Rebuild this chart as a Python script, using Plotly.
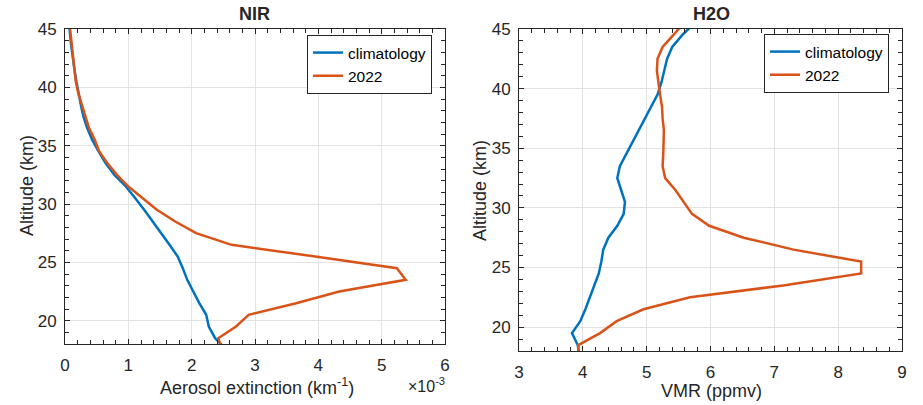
import plotly.graph_objects as go

# ---------------- data ----------------
alt = [17.5, 18.5, 19.5, 20.5, 21.5, 22.5, 23.5, 24.5, 25.5, 26.5, 27.5, 28.5,
       29.5, 30.5, 31.5, 32.5, 33.5, 34.5, 35.5, 36.5, 37.5, 38.5, 39.5, 40.5,
       41.5, 42.5, 43.5, 44.5, 45.5]

# NIR aerosol extinction (x 1e-3 km^-1)
nir_clim = [2.55, 2.37, 2.27, 2.23, 2.12, 2.02, 1.93, 1.86, 1.78, 1.65, 1.52, 1.38,
            1.25, 1.11, 0.96, 0.78, 0.64, 0.53, 0.43, 0.35, 0.29, 0.25, 0.21, 0.18,
            0.15, 0.12, 0.10, 0.08, 0.065]
nir_2022 = [2.48, 2.42, 2.70, 2.90, 3.65, 4.33, 5.38, 5.24, 3.95, 2.63, 2.07, 1.74,
            1.45, 1.22, 1.00, 0.82, 0.67, 0.54, 0.47, 0.38, 0.32, 0.27, 0.21, 0.17,
            0.15, 0.12, 0.10, 0.085, 0.07]

# H2O VMR (ppmv)
h2o_clim = [3.95, 3.92, 3.83, 3.96, 4.04, 4.11, 4.18, 4.25, 4.29, 4.32, 4.40, 4.54,
            4.64, 4.66, 4.60, 4.54, 4.58, 4.68, 4.77, 4.87, 4.98, 5.08, 5.17, 5.23,
            5.28, 5.32, 5.40, 5.56, 5.75]
h2o_2022 = [3.93, 3.93, 4.27, 4.53, 4.95, 5.68, 7.14, 8.36, 8.36, 7.30, 6.52, 5.98,
            5.71, 5.58, 5.45, 5.29, 5.25, 5.26, 5.27, 5.27, 5.25, 5.24, 5.21, 5.19,
            5.16, 5.17, 5.25, 5.42, 5.58]

nir_xticks = [0, 1, 2, 3, 4, 5, 6]
h2o_xticks = [3, 4, 5, 6, 7, 8, 9]
alt_ticks = [20, 25, 30, 35, 40, 45]

BLUE = "#0072BD"
ORANGE = "#D95319"
AX = "#262626"
GRID = "#e3e3e3"
FONT = "Liberation Sans, Arial, sans-serif"

W, H = 923, 405


def px(x):
    return x / W


def py(y):
    return 1 - y / H


fig = go.Figure()
fig.add_trace(go.Scatter(x=nir_clim, y=alt, mode="lines", name="climatology",
                         line=dict(color=BLUE, width=2.5), xaxis="x", yaxis="y",
                         legend="legend"))
fig.add_trace(go.Scatter(x=nir_2022, y=alt, mode="lines", name="2022",
                         line=dict(color=ORANGE, width=2.5), xaxis="x", yaxis="y",
                         legend="legend"))
fig.add_trace(go.Scatter(x=h2o_clim, y=alt, mode="lines", name="climatology",
                         line=dict(color=BLUE, width=2.5), xaxis="x2", yaxis="y2",
                         legend="legend2"))
fig.add_trace(go.Scatter(x=h2o_2022, y=alt, mode="lines", name="2022",
                         line=dict(color=ORANGE, width=2.5), xaxis="x2", yaxis="y2",
                         legend="legend2"))

common = dict(showline=True, linecolor=AX, linewidth=1, mirror="allticks",
              ticks="inside", ticklen=5, tickcolor=AX, showgrid=True,
              gridcolor=GRID, gridwidth=1, zeroline=False, automargin=False,
              tickfont=dict(family=FONT, size=17, color=AX))

fig.update_layout(
    width=W, height=H,
    margin=dict(l=0, r=0, t=0, b=0, autoexpand=False),
    paper_bgcolor="white", plot_bgcolor="white",
    font=dict(family=FONT, color=AX),
    xaxis=dict(domain=[px(65), px(445)], range=[0, 6], tickvals=nir_xticks,
               anchor="y", ticklabelstandoff=6,
               minor=dict(dtick=0.2, ticks="inside", ticklen=4, tickcolor=AX, showgrid=False),
               **common),
    yaxis=dict(domain=[py(344), py(29)], range=[18, 45], tickvals=alt_ticks,
               anchor="x", ticklabelstandoff=4,
               minor=dict(dtick=1, ticks="inside", ticklen=4, tickcolor=AX, showgrid=False),
               **common),
    xaxis2=dict(domain=[px(519), px(902)], range=[3, 9], tickvals=h2o_xticks,
                anchor="y2", ticklabelstandoff=6,
                minor=dict(dtick=0.2, ticks="inside", ticklen=4, tickcolor=AX, showgrid=False),
                **common),
    yaxis2=dict(domain=[py(351), py(29)], range=[18, 45], tickvals=alt_ticks,
                anchor="x2", ticklabelstandoff=4,
                minor=dict(dtick=1, ticks="inside", ticklen=4, tickcolor=AX, showgrid=False),
                **common),
    legend=dict(x=px(432), y=py(35), xanchor="right", yanchor="top",
                bgcolor="white", bordercolor=AX, borderwidth=1,
                font=dict(family=FONT, size=15.5, color="black"),
                tracegroupgap=0, itemclick=False),
    legend2=dict(x=px(889), y=py(34), xanchor="right", yanchor="top",
                 bgcolor="white", bordercolor=AX, borderwidth=1,
                 font=dict(family=FONT, size=15.5, color="black"),
                 tracegroupgap=0, itemclick=False),
    showlegend=True,
)

annots = [
    dict(text="<b>NIR</b>", x=px(255), y=py(14), size=18, angle=0),
    dict(text="<b>H2O</b>", x=px(711), y=py(14), size=18, angle=0),
    dict(text="Aerosol extinction (km<sup>-1</sup>)", x=px(257), y=py(386), size=18, angle=0),
    dict(text="VMR (ppmv)", x=px(711), y=py(391), size=18, angle=0),
    dict(text="Altitude (km)", x=px(27), y=py(186), size=18, angle=-90),
    dict(text="Altitude (km)", x=px(480), y=py(190), size=18, angle=-90),
]
for a in annots:
    fig.add_annotation(text=a["text"], x=a["x"], y=a["y"], xref="paper", yref="paper",
                       showarrow=False, textangle=a["angle"], xanchor="center",
                       yanchor="middle", font=dict(family=FONT, size=a["size"], color=AX))

fig.add_annotation(text="×10<sup>-3</sup>", x=px(447), y=py(385), xref="paper", yref="paper",
                   showarrow=False, xanchor="right", yanchor="middle",
                   font=dict(family=FONT, size=16, color=AX))

fig.write_html("out.html", config={"displayModeBar": False},
               post_script="document.body.style.margin='0';document.body.style.overflow='hidden';")
